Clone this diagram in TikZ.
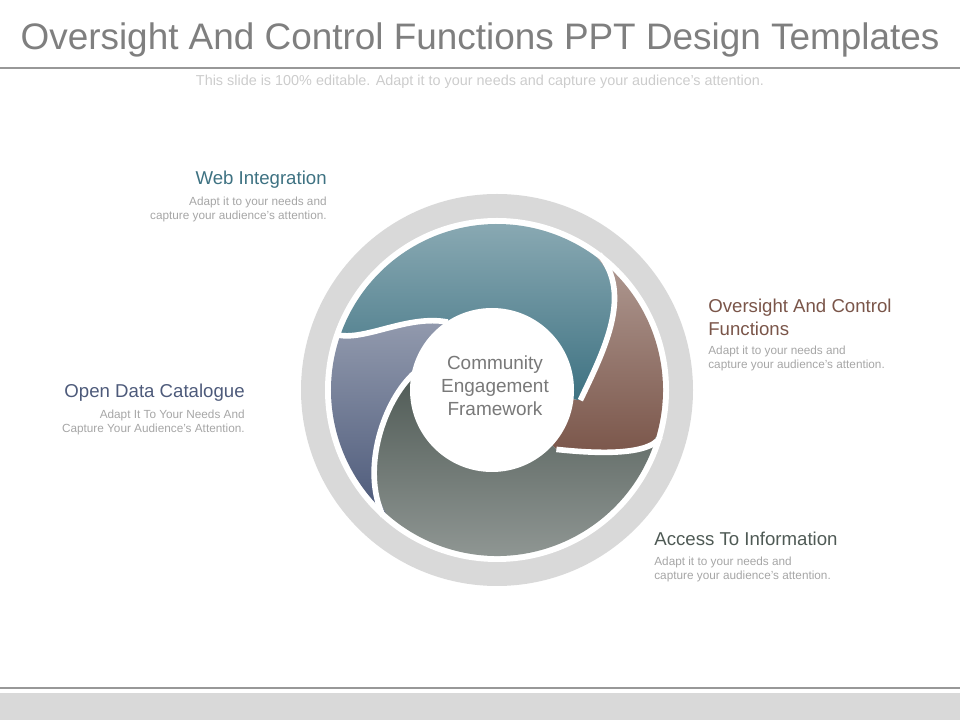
\documentclass[tikz,border=0pt]{standalone}
\usepackage{fontspec}
\setmainfont{Liberation Sans}
\usepackage{tikz}
\usetikzlibrary{calc}
\definecolor{titlegray}{HTML}{7F7F7F}
\definecolor{ringgray}{HTML}{D9D9D9}
\definecolor{tealcolor}{HTML}{3E7282}
\definecolor{browncolor}{HTML}{7A5549}
\definecolor{slatecolor}{HTML}{4D5A7A}
\definecolor{greencolor}{HTML}{4F5A55}

\begin{document}
\begin{tikzpicture}[x=0.02cm, y=0.02cm,
  head/.style={font=\fontsize{10.6}{13}\selectfont, inner sep=0pt},
  body/.style={font=\fontsize{6.7}{8}\selectfont, text=gray!70, inner sep=0pt},
  gap/.style={draw=white, line width=3.2pt}]
  \useasboundingbox (0,0) rectangle (960,720);
  % title and rules
  \node[text=titlegray, font=\fontsize{21}{24}\selectfont] (title) at (480,680) {Oversight And Control Functions PPT Design Templates};
  \draw[titlegray!80, line width=1.6pt] (0,652) -- (960,652);
  \node[text=gray!40, font=\fontsize{8.2}{9}\selectfont] (sub) at (480,638) {This slide is 100\% editable. Adapt it to your needs and capture your audience's attention.};
  \fill[ringgray] (0,0) rectangle (960,27);
  \draw[titlegray!80, line width=1.6pt] (0,32) -- (960,32);
  % outer ring
  \coordinate (c) at (497,330);
  \fill[ringgray] (c) circle (196);
  \fill[white] (c) circle (172);
  % blades
  \def\R{166}\def\r{84}
  \shade[top color=tealcolor!60, bottom color=tealcolor]
    ($(c)+(161:\R)$) arc (161:53:\R)
    .. controls ($(c)+(35:\R)$) and ($(c)+(20:1.35*\r)$) .. ($(c)+(-7:\r)$) -- (c)
    -- ($(c)+(126:\r)$) .. controls ($(c)+(140:1.4*\r)$) and ($(c)+(160:0.85*\R)$) .. cycle;
  \shade[top color=browncolor!60, bottom color=browncolor]
    ($(c)+(53:\R)$) arc (53:-16:\R)
    .. controls ($(c)+(-24:\R)$) and ($(c)+(-35:1.3*\r)$) .. ($(c)+(-45:\r)$) -- (c)
    -- ($(c)+(-7:\r)$) .. controls ($(c)+(20:1.35*\r)$) and ($(c)+(35:\R)$) .. cycle;
  \shade[top color=greencolor, bottom color=greencolor!60]
    ($(c)+(-16:\R)$) arc (-16:-132:\R)
    .. controls ($(c)+(-150:0.95*\R)$) and ($(c)+(-175:1.35*\r)$) .. ($(c)+(168:\r)$) -- (c)
    -- ($(c)+(-45:\r)$) .. controls ($(c)+(-35:1.3*\r)$) and ($(c)+(-24:\R)$) .. cycle;
  \shade[top color=slatecolor!60, bottom color=slatecolor]
    ($(c)+(-132:\R)$) arc (-132:-199:\R)
    .. controls ($(c)+(160:0.85*\R)$) and ($(c)+(140:1.4*\r)$) .. ($(c)+(126:\r)$) -- (c)
    -- ($(c)+(168:\r)$) .. controls ($(c)+(-175:1.35*\r)$) and ($(c)+(-150:0.95*\R)$) .. cycle;
  % white gaps between blades
  \draw[gap] ($(c)+(53:\R+4)$) .. controls ($(c)+(35:\R)$) and ($(c)+(20:1.35*\r)$) .. ($(c)+(-7:\r)$);
  \draw[gap] ($(c)+(-16:\R+4)$) .. controls ($(c)+(-24:\R)$) and ($(c)+(-35:1.3*\r)$) .. ($(c)+(-45:\r)$);
  \draw[gap] ($(c)+(-132:\R+4)$) .. controls ($(c)+(-150:0.95*\R)$) and ($(c)+(-175:1.35*\r)$) .. ($(c)+(168:\r)$);
  \draw[gap] ($(c)+(161:\R+4)$) .. controls ($(c)+(160:0.85*\R)$) and ($(c)+(140:1.4*\r)$) .. ($(c)+(126:\r)$);
  % centre
  \fill[white] ($(c)+(-5,0)$) circle (82);
  \node[head, text=gray!95!black, align=center, font=\fontsize{10.8}{13}\selectfont] (hub) at (495,334) {Community\\Engagement\\Framework};
  % labels
  \node[head, text=tealcolor, anchor=east] (web) at (327,540) {Web Integration};
  \node[body, align=right, anchor=north east] (webtxt) at (327,523) {Adapt it to your needs and\\capture your audience's attention.};
  \node[head, text=browncolor, anchor=north west, align=left] (over) at (708,421) {Oversight And Control\\Functions};
  \node[body, align=left, anchor=north west] (overtxt) at (708,374) {Adapt it to your needs and\\capture your audience's attention.};
  \node[head, text=slatecolor, anchor=east] (open) at (245,327) {Open Data Catalogue};
  \node[body, align=right, anchor=north east] (opentxt) at (245,310) {Adapt It To Your Needs And\\Capture Your Audience's Attention.};
  \node[head, text=greencolor, anchor=west] (acc) at (654,181) {Access To Information};
  \node[body, align=left, anchor=north west] (acctxt) at (654,163) {Adapt it to your needs and\\capture your audience's attention.};
\end{tikzpicture}
\end{document}
